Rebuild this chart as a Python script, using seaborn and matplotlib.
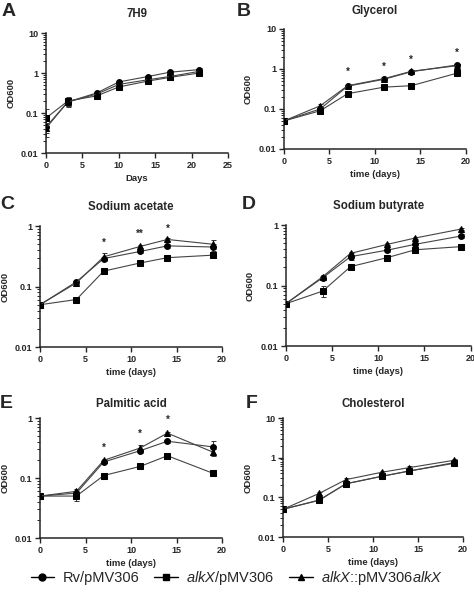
import numpy as np
import pandas as pd
import seaborn as sns
import matplotlib.pyplot as plt
from matplotlib.lines import Line2D
from matplotlib.ticker import LogLocator, FixedLocator, FixedFormatter, NullFormatter

sns.set_style('ticks')
plt.rcParams['font.family'] = ['Liberation Sans', 'DejaVu Sans']
plt.rcParams['mathtext.fontset'] = 'custom'
plt.rcParams['mathtext.rm'] = 'Liberation Sans'
plt.rcParams['mathtext.it'] = 'Liberation Sans:italic'

# ---- data (OD600) ----
strains = ['Rv', 'alkX', 'comp']
legend_labels = ['Rv/pMV306', r'$\mathit{alkX}$/pMV306', r'$\mathit{alkX}$::pMV306$\mathit{alkX}$']

# A: 7H9
a_days = [0, 3, 7, 10, 14, 17, 21]
a_rv = [0.045, 0.19, 0.32, 0.60, 0.82, 1.05, 1.22]
a_alkx = [0.075, 0.20, 0.27, 0.45, 0.63, 0.78, 1.00]
a_comp = [0.042, 0.19, 0.30, 0.52, 0.68, 0.82, 1.10]
a_rv_sd = [0.01, 0.04, 0.04, 0.05, 0.06, 0.08, 0.10]
a_alkx_sd = [0.05, 0.05, 0.05, 0.08, 0.10, 0.12, 0.10]
a_comp_sd = [0.01, 0.05, 0.05, 0.06, 0.08, 0.10, 0.12]

# B: Glycerol
b_days = [0, 4, 7, 11, 14, 19]
b_rv = [0.050, 0.10, 0.37, 0.55, 0.85, 1.25]
b_alkx = [0.050, 0.09, 0.24, 0.35, 0.38, 0.78]
b_comp = [0.050, 0.12, 0.38, 0.57, 0.87, 1.20]
b_rv_sd = [0.003, 0.01, 0.03, 0.04, 0.06, 0.10]
b_alkx_sd = [0.003, 0.01, 0.02, 0.03, 0.03, 0.06]
b_comp_sd = [0.003, 0.01, 0.03, 0.04, 0.06, 0.10]
b_star_days = [7, 11, 14, 19]
b_star_y = [0.85, 1.15, 1.65, 2.5]
b_star_txt = ['*', '*', '*', '*']

# C: Sodium acetate
c_days = [0, 4, 7, 11, 14, 19]
c_rv = [0.050, 0.12, 0.29, 0.38, 0.47, 0.45]
c_alkx = [0.050, 0.061, 0.18, 0.245, 0.30, 0.33]
c_comp = [0.050, 0.115, 0.31, 0.46, 0.60, 0.50]
c_rv_sd = [0.003, 0.008, 0.02, 0.02, 0.03, 0.06]
c_alkx_sd = [0.003, 0.004, 0.01, 0.01, 0.015, 0.03]
c_comp_sd = [0.003, 0.008, 0.05, 0.02, 0.03, 0.08]
c_star_days = [7, 11, 14]
c_star_y = [0.52, 0.74, 0.90]
c_star_txt = ['*', '**', '*']

# D: Sodium butyrate
d_days = [0, 4, 7, 11, 14, 19]
d_rv = [0.050, 0.135, 0.30, 0.385, 0.48, 0.66]
d_alkx = [0.050, 0.081, 0.205, 0.29, 0.39, 0.44]
d_comp = [0.050, 0.14, 0.34, 0.48, 0.61, 0.86]
d_rv_sd = [0.003, 0.008, 0.04, 0.02, 0.03, 0.04]
d_alkx_sd = [0.003, 0.017, 0.01, 0.015, 0.02, 0.02]
d_comp_sd = [0.003, 0.008, 0.02, 0.02, 0.03, 0.04]

# E: Palmitic acid
e_days = [0, 4, 7, 11, 14, 19]
e_rv = [0.050, 0.056, 0.185, 0.285, 0.41, 0.33]
e_alkx = [0.050, 0.050, 0.11, 0.156, 0.235, 0.12]
e_comp = [0.050, 0.060, 0.197, 0.316, 0.56, 0.27]
e_rv_sd = [0.003, 0.005, 0.01, 0.02, 0.02, 0.08]
e_alkx_sd = [0.003, 0.009, 0.005, 0.008, 0.01, 0.006]
e_comp_sd = [0.003, 0.005, 0.01, 0.04, 0.03, 0.04]
e_star_days = [7, 11, 14]
e_star_y = [0.32, 0.54, 0.92]
e_star_txt = ['*', '*', '*']

# F: Cholesterol
f_days = [0, 4, 7, 11, 14, 19]
f_rv = [0.050, 0.084, 0.22, 0.34, 0.46, 0.72]
f_alkx = [0.050, 0.085, 0.22, 0.34, 0.46, 0.75]
f_comp = [0.050, 0.125, 0.28, 0.43, 0.56, 0.86]
f_rv_sd = [0.003, 0.006, 0.02, 0.03, 0.04, 0.08]
f_alkx_sd = [0.003, 0.006, 0.02, 0.03, 0.04, 0.10]
f_comp_sd = [0.003, 0.008, 0.02, 0.03, 0.04, 0.08]

panels = [
    ('A', '7H9', 'Days', a_days, [a_rv, a_alkx, a_comp], [a_rv_sd, a_alkx_sd, a_comp_sd],
     None, 25, 10, [0.097, 0.744, 0.384, 0.2007], 11.5),
    ('B', 'Glycerol', 'time (days)', b_days, [b_rv, b_alkx, b_comp], [b_rv_sd, b_alkx_sd, b_comp_sd],
     (b_star_days, b_star_y, b_star_txt), 20, 10, [0.599, 0.751, 0.384, 0.2007], 11),
    ('C', 'Sodium acetate', 'time (days)', c_days, [c_rv, c_alkx, c_comp], [c_rv_sd, c_alkx_sd, c_comp_sd],
     (c_star_days, c_star_y, c_star_txt), 20, 1, [0.0844, 0.4197, 0.384, 0.2023], 11.5),
    ('D', 'Sodium butyrate', 'time (days)', d_days, [d_rv, d_alkx, d_comp], [d_rv_sd, d_alkx_sd, d_comp_sd],
     None, 20, 1, [0.603, 0.4214, 0.39, 0.2023], 11.5),
    ('E', 'Palmitic acid', 'time (days)', e_days, [e_rv, e_alkx, e_comp], [e_rv_sd, e_alkx_sd, e_comp_sd],
     (e_star_days, e_star_y, e_star_txt), 20, 1, [0.0844, 0.1003, 0.384, 0.2007], 8),
    ('F', 'Cholesterol', 'time (days)', f_days, [f_rv, f_alkx, f_comp], [f_rv_sd, f_alkx_sd, f_comp_sd],
     None, 20, 10, [0.597, 0.102, 0.38, 0.199], 8),
]

markers = {'Rv': 'o', 'alkX': 's', 'comp': '^'}
letter_pos = {'A': (0.004, 0.995), 'B': (0.5, 0.995), 'C': (0.0, 0.672),
              'D': (0.51, 0.672), 'E': (0.0, 0.34), 'F': (0.518, 0.34)}

fig = plt.figure(figsize=(4.74, 5.98), dpi=100)

for letter, title, xlabel, days, series, sds, stars, xmax, ymax, rect, tpad in panels:
    ax = fig.add_axes(rect)
    df = pd.DataFrame({
        'day': np.tile(days, 3),
        'od': np.concatenate(series),
        'strain': np.repeat(strains, len(days)),
    })
    for s, vals, sd in zip(strains, series, sds):
        ax.errorbar(days, vals, yerr=sd, fmt='none', ecolor='#333333',
                    elinewidth=0.7, capsize=1.8, capthick=0.7, zorder=2)
    sns.lineplot(data=df, x='day', y='od', style='strain', markers=markers,
                 dashes=False, color='#444444', linewidth=0.8, markersize=4.2,
                 markerfacecolor='black', markeredgecolor='black',
                 errorbar=None, legend=False, ax=ax, zorder=3)
    if stars is not None:
        for x, y, t in zip(*stars):
            ax.text(x, y, t, ha='center', va='center', fontsize=7, fontweight='bold')

    ax.set_yscale('log')
    ax.set_ylim(0.01, ymax)
    ax.set_xlim(0, xmax)
    ax.set_xticks(np.arange(0, xmax + 1, 5))
    yt = [0.01, 0.1, 1, 10] if ymax == 10 else [0.01, 0.1, 1]
    ax.yaxis.set_major_locator(FixedLocator(yt))
    ax.yaxis.set_major_formatter(FixedFormatter([f'{v:g}' for v in yt]))
    ax.yaxis.set_minor_locator(LogLocator(base=10, subs=np.arange(2, 10), numticks=20))
    ax.yaxis.set_minor_formatter(NullFormatter())

    sns.despine(ax=ax)
    for sp in ['left', 'bottom']:
        ax.spines[sp].set_linewidth(1.1)
    ax.tick_params(axis='both', which='major', length=3.5, width=1.0, pad=2,
                   labelsize=6.5)
    ax.tick_params(axis='y', which='minor', length=2, width=0.7)
    for lab in ax.get_xticklabels() + ax.get_yticklabels():
        lab.set_fontweight('bold')

    ax.set_title(title, fontsize=8.3, fontweight='bold', pad=tpad)
    ax.set_xlabel(xlabel, fontsize=6.8, fontweight='bold', labelpad=3)
    ax.set_ylabel('OD600', fontsize=6.8, fontweight='bold', labelpad=4)

    lx, ly = letter_pos[letter]
    fig.text(lx, ly, letter, fontsize=14, fontweight='bold', ha='left', va='top')

handles = [Line2D([], [], color='black', linewidth=1.0, marker=markers[s],
                  markersize=5, markerfacecolor='black') for s in strains]
fig.legend(handles, legend_labels, loc='center', bbox_to_anchor=(0.5, 0.034),
           ncol=3, frameon=False, fontsize=10.5, handlelength=1.6,
           handletextpad=0.6, columnspacing=1.0, borderaxespad=0)

fig.savefig('out.png', dpi=100)
